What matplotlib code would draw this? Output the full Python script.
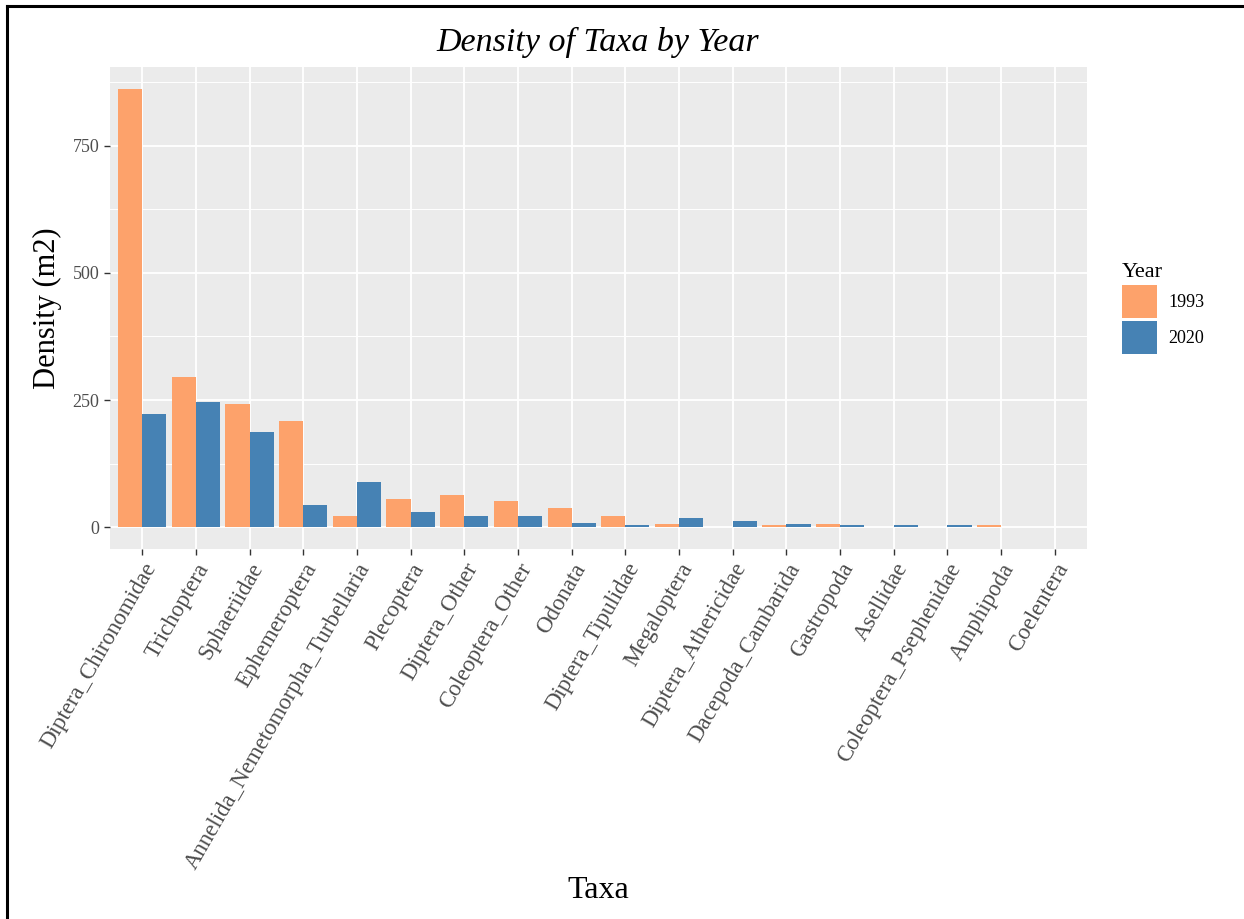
import matplotlib
matplotlib.use("Agg")
import matplotlib.pyplot as plt
import numpy as np
from matplotlib.patches import Patch
from matplotlib.lines import Line2D

taxa = ["Diptera_Chironomidae", "Trichoptera", "Sphaeriidae", "Ephemeroptera",
        "Annelida_Nemetomorpha_Turbellaria", "Plecoptera", "Diptera_Other",
        "Coleoptera_Other", "Odonata", "Diptera_Tipulidae", "Megaloptera",
        "Diptera_Athericidae", "Dacepoda_Cambarida", "Gastropoda", "Asellidae",
        "Coleoptera_Psephenidae", "Amphipoda", "Coelentera"]
density_1993 = [862, 295, 243, 209, 21, 56, 64, 52, 37, 22, 6.5, 0, 4, 6.5, 0, 0, 3.5, 0]
density_2020 = [222, 246, 188, 43, 89, 30, 21, 21, 9, 4, 18, 12, 7, 4, 3.5, 3.5, 0, 0]
years = ["1993", "2020"]
colors = ["#FDA26B", "#4682B4"]

plt.rcParams["font.family"] = ["Liberation Serif", "DejaVu Serif"]

W, H = 1244, 919
fig = plt.figure(figsize=(W / 100, H / 100), dpi=100)
ax = fig.add_axes([110 / W, 1 - 549 / H, (1087 - 110) / W, (549 - 67) / H])

x = np.arange(1, len(taxa) + 1)
w = 0.45
ax.bar(x - w / 2, density_1993, width=w, color=colors[0], zorder=3)
ax.bar(x + w / 2, density_2020, width=w, color=colors[1], zorder=3)

ymax = max(density_1993 + density_2020)
ax.set_xlim(0.4, len(taxa) + 0.6)
ax.set_ylim(-0.05 * ymax, 1.05 * ymax)

# ggplot-like panel
ax.set_facecolor("#EBEBEB")
for s in ax.spines.values():
    s.set_visible(False)
ax.set_yticks([0, 250, 500, 750])
ax.set_yticks([125, 375, 625, 875], minor=True)
ax.set_xticks(x)
ax.grid(True, which="major", color="white", linewidth=1.3, zorder=0)
ax.grid(True, which="minor", axis="y", color="white", linewidth=0.7, zorder=0)
ax.tick_params(which="major", length=4, width=1.0, color="#333333",
               labelcolor="#4D4D4D", labelsize=13)
ax.tick_params(which="minor", length=0)
ax.set_xticklabels(taxa, rotation=60, ha="right", va="top",
                   rotation_mode="anchor", fontsize=16.5)

ax.set_ylabel("Density (m2)", fontsize=22, color="black", labelpad=8)
fig.text(598 / W, 1 - 890 / H, "Taxa", fontsize=23, ha="center", va="center")
fig.text(598 / W, 1 - 42 / H, "Density of Taxa by Year", fontsize=24.5,
         style="italic", ha="center", va="center")

handles = [Patch(facecolor=c, edgecolor="none") for c in colors]
leg = fig.legend(handles, years, title="Year", loc="upper left",
                 bbox_to_anchor=(1106 / W, 1 - 247 / H), frameon=False,
                 fontsize=13, title_fontsize=16, handlelength=1.94,
                 handleheight=2.45, labelspacing=0.15, handletextpad=0.6)
leg._legend_box.align = "left"

# outer frame (left and top edges)
lw = 2.2
fig.add_artist(Line2D([7 / W, 7 / W], [0, 1 - 6 / H], color="black", linewidth=lw))
fig.add_artist(Line2D([7 / W, 1], [1 - 6 / H, 1 - 6 / H], color="black", linewidth=lw))

fig.savefig("out.png", dpi=100)
